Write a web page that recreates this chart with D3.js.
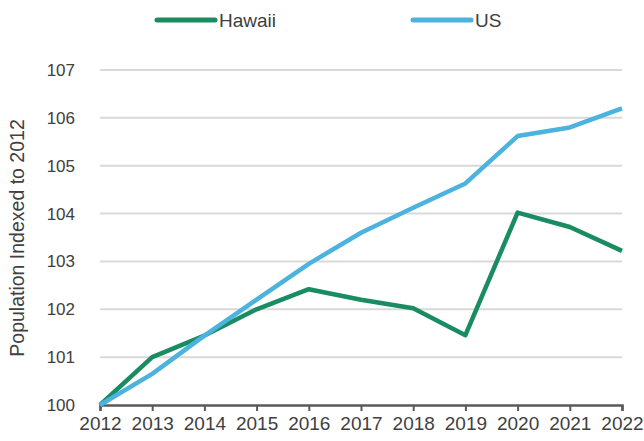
<!DOCTYPE html>
<html>
<head>
<meta charset="utf-8">
<script src="https://cdn.jsdelivr.net/npm/d3@7"></script>
<style>
  html, body { margin: 0; padding: 0; background: #fff; }
  svg text { font-family: "Liberation Sans", Arial, sans-serif; fill: #404040; }
</style>
</head>
<body>
<svg id="chart" width="644" height="441"></svg>
<script>
// Population indexed to 2012 = 100
const years = [2012, 2013, 2014, 2015, 2016, 2017, 2018, 2019, 2020, 2021, 2022];
const hawaii = [100, 101.0, 101.45, 102.0, 102.42, 102.2, 102.02, 101.46, 104.02, 103.72, 103.22];
const us = [100, 100.65, 101.45, 102.2, 102.95, 103.6, 104.12, 104.63, 105.62, 105.8, 106.2];
const yTicks = [100, 101, 102, 103, 104, 105, 106, 107];
const seriesNames = ["Hawaii", "US"];
const seriesColors = ["#1a8c62", "#4cb2de"];

const svg = d3.select("#chart");
const x = d3.scaleLinear().domain([2012, 2022]).range([100, 622]);
const y = d3.scaleLinear().domain([100, 107]).range([405, 70]);

// horizontal gridlines
svg.append("g")
  .selectAll("line")
  .data(yTicks.slice(1))
  .join("line")
  .attr("x1", x(2012)).attr("x2", x(2022))
  .attr("y1", d => y(d)).attr("y2", d => y(d))
  .attr("stroke", "#d9d9d9").attr("stroke-width", 2);

// y tick labels
const yAxis = svg.append("g")
  .attr("transform", `translate(${x(2012)},0)`)
  .call(d3.axisLeft(y).tickValues(yTicks).tickSize(0).tickPadding(25).tickFormat(d3.format("d")));
yAxis.select(".domain").remove();
yAxis.selectAll("text").style("font-size", "17px").attr("fill", "#4a4a4a");

// x axis
const xAxis = svg.append("g")
  .attr("transform", `translate(0,${y(100)})`)
  .call(d3.axisBottom(x).tickValues(years).tickFormat(d3.format("d")).tickSize(6).tickPadding(6));
xAxis.select(".domain").attr("stroke", "#595959").attr("stroke-width", 2.5);
xAxis.selectAll(".tick line").attr("stroke", "#595959").attr("stroke-width", 2);
xAxis.selectAll("text").style("font-size", "19px").attr("fill", "#4a4a4a");

// axis title
svg.append("text")
  .attr("transform", "translate(24,238) rotate(-90)")
  .attr("text-anchor", "middle")
  .attr("fill", "#4a4a4a")
  .style("font-size", "19.5px")
  .text("Population Indexed to 2012");

// series lines
const line = d3.line().x((d, i) => x(years[i])).y(d => y(d));
[hawaii, us].forEach((vals, k) => {
  svg.append("path")
    .datum(vals)
    .attr("fill", "none")
    .attr("stroke", seriesColors[k])
    .attr("stroke-width", 4.5)
    .attr("stroke-linejoin", "round")
    .attr("d", line);
});

// legend
const legendPos = [157, 413];
seriesNames.forEach((name, k) => {
  const g = svg.append("g").attr("transform", `translate(${legendPos[k]},20)`);
  g.append("line").attr("x1", 0).attr("x2", 58).attr("y1", 0).attr("y2", 0)
    .attr("stroke", seriesColors[k]).attr("stroke-width", 5).attr("stroke-linecap", "round");
  g.append("text").attr("x", 62).attr("y", 7).attr("fill", "#4a4a4a").style("font-size", "19px").text(name);
});
</script>
</body>
</html>
